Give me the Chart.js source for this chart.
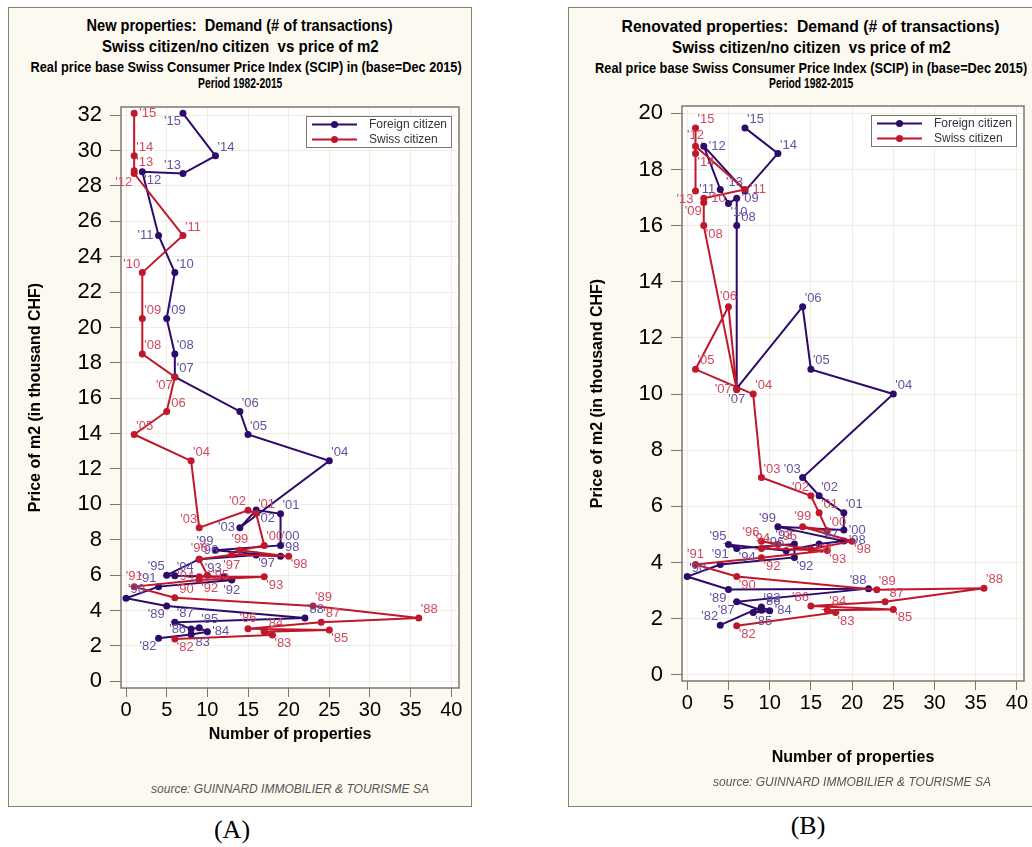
<!DOCTYPE html>
<html>
<head>
<meta charset="utf-8">
<script src="https://cdn.jsdelivr.net/npm/chart.js@4.4.0/dist/chart.umd.min.js"></script>
<style>
html, body { margin: 0; padding: 0; background: #fff; }
body { width: 1032px; height: 847px; position: relative; overflow: hidden; font-family: Arial, "Liberation Sans", sans-serif; }
.panel { position: absolute; top: 7px; height: 798px; background: #fcf9f1; border: 1px solid #858074; }
#panelA { left: 8px; width: 462px; }
#panelB { left: 568px; width: 484px; }
.ttl { position: absolute; left: 0; width: 100%; text-align: center; white-space: pre; font-family: Arial, "Liberation Sans", sans-serif; font-weight: bold; color: #000; }
.ttl span { display: inline-block; transform-origin: 50% 50%; }
.t1 { font-size: 17px; line-height: 20px; }
.t2 { font-size: 14px; line-height: 16px; }
canvas { position: absolute; }
.src { position: absolute; transform: translateX(-50%); white-space: nowrap; font-style: italic; font-size: 12px; color: #555; }
.tag { position: absolute; transform: translateX(-50%); font-family: "Liberation Serif", "Times New Roman", serif; font-size: 26px; color: #000; }
</style>
</head>
<body>
<div class="panel" id="panelA">
  <div class="ttl t1" style="top:8px"><span data-w="306">New properties:  Demand (# of transactions)</span></div>
  <div class="ttl t1" style="top:29px"><span data-w="277">Swiss citizen/no citizen  vs price of m2</span></div>
  <div class="ttl t2" style="top:51px"><span data-w="431">Real price base Swiss Consumer Price Index (SCIP) in (base=Dec 2015)</span></div>
  <div class="ttl t2" style="top:67px"><span data-w="84">Period 1982-2015</span></div>
</div>
<div class="panel" id="panelB">
  <div class="ttl t1" style="top:9px"><span data-w="378">Renovated properties:  Demand (# of transactions)</span></div>
  <div class="ttl t1" style="top:30px"><span data-w="279">Swiss citizen/no citizen  vs price of m2</span></div>
  <div class="ttl t2" style="top:52px"><span data-w="432">Real price base Swiss Consumer Price Index (SCIP) in (base=Dec 2015)</span></div>
  <div class="ttl t2" style="top:67px"><span data-w="84">Period 1982-2015</span></div>
</div>
<canvas id="chartA" width="480" height="780" style="left:0;top:0"></canvas>
<canvas id="chartB" width="500" height="780" style="left:568px;top:0"></canvas>
<div class="src" style="left:290px;top:782px">source: GUINNARD IMMOBILIER &amp; TOURISME SA</div>
<div class="src" style="left:852px;top:775px">source: GUINNARD IMMOBILIER &amp; TOURISME SA</div>
<div class="tag" style="left:232px;top:815px">(A)</div>
<div class="tag" style="left:808px;top:811px">(B)</div>

<script>
// années 1982 -> 2015
const years = ['82','83','84','85','86','87','88','89','90','91','92','93','94','95','96','97','98','99',
               '00','01','02','03','04','05','06','07','08','09','10','11','12','13','14','15'];

// (A) Nouveaux biens
const newForeignCount = [4, 8, 10, 9, 8, 6, 22, 5, 0, 4, 13, 12, 6, 5, 9, 16, 19, 11,
                         19, 19, 16, 14, 25, 15, 14, 6, 6, 5, 6, 4, 2, 7, 11, 7];
const newForeignPrice = [2.43, 2.65, 2.8, 3.02, 2.95, 3.33, 3.58, 4.25, 4.69, 5.35, 5.72, 5.91, 5.97, 6.0, 6.9, 7.14, 7.06, 7.4,
                         7.68, 9.47, 9.68, 8.68, 12.46, 13.95, 15.25, 17.2, 18.5, 20.5, 23.1, 25.2, 28.8, 28.7, 29.7, 32.1];
const newSwissCount   = [6, 18, 17, 25, 15, 24, 36, 23, 6, 1, 9, 17, 9, 10, 9, 13, 20, 14,
                         17, 16, 15, 9, 8, 1, 5, 6, 2, 2, 2, 7, 1, 1, 1, 1];
const newSwissPrice   = [2.39, 2.62, 2.8, 2.9, 2.97, 3.33, 3.58, 4.25, 4.72, 5.35, 5.72, 5.91, 5.91, 6.0, 6.9, 7.15, 7.06, 7.4,
                         7.68, 9.49, 9.66, 8.68, 12.46, 13.95, 15.25, 17.2, 18.5, 20.5, 23.1, 25.2, 28.7, 28.85, 29.7, 32.1];

// (B) Biens rénovés
const renForeignCount = [4, 9, 10, 8, 9, 6, 22, 5, 0, 4, 13, 13, 6, 5, 12, 16, 19, 11,
                         19, 19, 16, 14, 25, 15, 14, 6, 6, 6, 5, 4, 2, 7, 11, 7];
const renForeignPrice = [1.77, 2.42, 2.28, 2.22, 2.3, 2.6, 3.07, 3.04, 3.5, 3.93, 4.18, 4.66, 4.5, 4.64, 4.42, 4.66, 4.77, 5.27,
                         5.16, 5.77, 6.38, 7.03, 10.0, 10.88, 13.11, 10.2, 16.0, 16.97, 16.79, 17.29, 18.83, 17.23, 18.57, 19.48];
const renSwissCount   = [6, 18, 17, 25, 15, 24, 36, 23, 6, 1, 9, 17, 9, 11, 9, 15, 20, 14,
                         17, 16, 15, 9, 8, 1, 5, 6, 2, 2, 2, 7, 1, 1, 1, 1];
const renSwissPrice   = [1.75, 2.22, 2.3, 2.33, 2.45, 2.6, 3.08, 3.03, 3.5, 3.93, 4.17, 4.43, 4.5, 4.64, 4.76, 4.47, 4.76, 5.27,
                         5.13, 5.77, 6.38, 7.03, 10.0, 10.88, 13.11, 10.15, 16.0, 16.82, 16.97, 17.29, 18.83, 17.23, 18.57, 19.48];

// graduations
const countTicks = [0, 5, 10, 15, 20, 25, 30, 35, 40];
const newPriceTicks = [0, 2, 4, 6, 8, 10, 12, 14, 16, 18, 20, 22, 24, 26, 28, 30, 32];
const renPriceTicks = [0, 2, 4, 6, 8, 10, 12, 14, 16, 18, 20];

// position des étiquettes d'année autour des points
const spotsNewForeign = 'sw se e ne w ne ne sw ne nw s nw ne nw ne se ne nw ne ne se w ne ne ne ne ne ne ne w se nw ne sw'.split(' ');
const spotsNewSwiss   = 'se se ne se n ne ne ne ne n se se w e n s se n ne ne nw nw ne ne ne sw ne ne nw ne sw ne ne e'.split(' ');
const spotsRenForeign = 'nw ne e se ne sw nw sw ne n se nw se nw nw ne e nw e ne ne nw ne ne ne s ne e se w e nw ne ne'.split(' ');
const spotsRenSwiss   = 'se se ne se nw ne ne ne se n se se n ne nw e se n ne ne nw ne ne ne n w se sw e e n sw se ne'.split(' ');

const FOREIGN = '#2d0a6b';
const SWISS = '#c0172b';
const AXIS = '#7d776b';

Chart.defaults.font.family = 'Arial, "Liberation Sans", sans-serif';

/**
 * Resserre les lignes de titre à la largeur de l'original (police étroite)
 */
function fitTitles() {
    document.querySelectorAll('.ttl span').forEach(span => {
        const target = parseFloat(span.dataset.w);
        const natural = span.offsetWidth;
        if (natural > 0) {
            span.style.transform = 'scaleX(' + (target / natural).toFixed(3) + ')';
        }
    });
}

/**
 * Fond blanc et cadre de la zone de tracé
 */
const plotFrame = {
    id: 'plotFrame',
    beforeDraw(chart) {
        const a = chart.chartArea;
        chart.ctx.save();
        chart.ctx.fillStyle = '#ffffff';
        chart.ctx.fillRect(a.left, a.top, a.right - a.left, a.bottom - a.top);
        chart.ctx.restore();
    },
    beforeDatasetsDraw(chart) {
        const a = chart.chartArea;
        const ctx = chart.ctx;
        ctx.save();
        ctx.strokeStyle = AXIS;
        ctx.lineWidth = 1.5;
        ctx.strokeRect(a.left, a.top, a.right - a.left, a.bottom - a.top);
        ctx.restore();
    }
};

/**
 * Étiquettes 'AA à côté de chaque point
 */
const yearLabels = {
    id: 'yearLabels',
    afterDatasetsDraw(chart) {
        const ctx = chart.ctx;
        const place = {
            ne: ['left', 'bottom', 2, -2], nw: ['right', 'bottom', -2, -2],
            se: ['left', 'top', 2, 2],     sw: ['right', 'top', -2, 2],
            e:  ['left', 'middle', 5, 0],  w:  ['right', 'middle', -5, 0],
            n:  ['center', 'bottom', 0, -4], s: ['center', 'top', 0, 4]
        };
        ctx.save();
        ctx.font = '13px Arial, "Liberation Sans", sans-serif';
        chart.data.datasets.forEach((ds, di) => {
            const meta = chart.getDatasetMeta(di);
            ctx.fillStyle = ds.labelColor;
            meta.data.forEach((pt, i) => {
                const p = place[ds.yearSpots[i]] || place.ne;
                ctx.textAlign = p[0];
                ctx.textBaseline = p[1];
                ctx.fillText("'" + years[i], pt.x + p[2], pt.y + p[3]);
            });
        });
        ctx.restore();
    }
};

/**
 * Légende encadrée dans le coin supérieur droit
 */
const legendBox = {
    id: 'legendBox',
    afterDraw(chart) {
        const ctx = chart.ctx;
        const a = chart.chartArea;
        const w = 145, h = 31;
        const x = a.right - 8 - w, y = a.top + 9;
        ctx.save();
        ctx.fillStyle = '#ffffff';
        ctx.fillRect(x, y, w, h);
        ctx.strokeStyle = AXIS;
        ctx.lineWidth = 1;
        ctx.strokeRect(x + 0.5, y + 0.5, w, h);
        chart.data.datasets.forEach((ds, i) => {
            const cy = y + 8.5 + i * 15;
            ctx.strokeStyle = ds.borderColor;
            ctx.lineWidth = 2;
            ctx.beginPath();
            ctx.moveTo(x + 6, cy);
            ctx.lineTo(x + 51, cy);
            ctx.stroke();
            ctx.fillStyle = ds.borderColor;
            ctx.beginPath();
            ctx.arc(x + 28.5, cy, 3.5, 0, Math.PI * 2);
            ctx.fill();
            ctx.fillStyle = '#333';
            ctx.font = '12px Arial, "Liberation Sans", sans-serif';
            ctx.textAlign = 'left';
            ctx.textBaseline = 'middle';
            ctx.fillText(ds.label, x + 63, cy + 0.5);
        });
        ctx.restore();
    }
};

function points(xs, ys) {
    return xs.map((x, i) => ({ x: x, y: ys[i] }));
}

function buildChart(id, cfg) {
    return new Chart(document.getElementById(id), {
        type: 'scatter',
        data: {
            datasets: [{
                label: 'Foreign citizen',
                data: points(cfg.foreignX, cfg.foreignY),
                borderColor: FOREIGN,
                backgroundColor: FOREIGN,
                labelColor: '#6650a0',
                yearSpots: cfg.foreignSpots,
                order: 1
            }, {
                label: 'Swiss citizen',
                data: points(cfg.swissX, cfg.swissY),
                borderColor: SWISS,
                backgroundColor: SWISS,
                labelColor: '#d3485e',
                yearSpots: cfg.swissSpots,
                order: 0
            }]
        },
        options: {
            responsive: false,
            animation: false,
            showLine: true,
            elements: {
                line: { borderWidth: 2, tension: 0 },
                point: { radius: 3.5, borderWidth: 0, hoverRadius: 3.5 }
            },
            layout: { padding: cfg.padding },
            plugins: {
                legend: { display: false },
                tooltip: { enabled: false }
            },
            scales: {
                x: {
                    type: 'linear',
                    min: cfg.xMin,
                    max: cfg.xMax,
                    afterBuildTicks: s => { s.ticks = countTicks.map(v => ({ value: v })); },
                    afterFit: s => { s.height = cfg.xAxisHeight; },
                    ticks: { color: '#000', font: { size: 20 }, padding: 1, maxRotation: 0 },
                    grid: { color: '#efeee0', tickColor: AXIS, tickLength: 9 },
                    border: { display: false },
                    title: {
                        display: true,
                        text: 'Number of properties',
                        color: '#000',
                        font: { size: 16, weight: 'bold' },
                        padding: 0
                    }
                },
                y: {
                    type: 'linear',
                    min: cfg.yMin,
                    max: cfg.yMax,
                    afterBuildTicks: s => { s.ticks = cfg.yTicks.map(v => ({ value: v })); },
                    afterFit: s => { s.width = cfg.yAxisWidth; },
                    ticks: { color: '#000', font: { size: 22 }, padding: 8 },
                    grid: { color: '#efeee0', tickColor: AXIS, tickLength: 11 },
                    border: { display: false },
                    title: {
                        display: true,
                        text: 'Price of m2 (in thousand CHF)',
                        color: '#000',
                        font: { size: 16, weight: 'bold' },
                        padding: 0
                    }
                }
            }
        },
        plugins: [plotFrame, yearLabels, legendBox]
    });
}

document.addEventListener('DOMContentLoaded', function() {
    fitTitles();

    buildChart('chartA', {
        foreignX: newForeignCount, foreignY: newForeignPrice, foreignSpots: spotsNewForeign,
        swissX: newSwissCount, swissY: newSwissPrice, swissSpots: spotsNewSwiss,
        xMin: -0.62, xMax: 40.95, yMin: -0.38, yMax: 32.46, yTicks: newPriceTicks,
        padding: { left: 26, top: 107, right: 21, bottom: 36 },
        xAxisHeight: 56, yAxisWidth: 95
    });
    buildChart('chartB', {
        foreignX: renForeignCount, foreignY: renForeignPrice, foreignSpots: spotsRenForeign,
        swissX: renSwissCount, swissY: renSwissPrice, swissSpots: spotsRenSwiss,
        xMin: -0.64, xMax: 40.86, yMin: -0.22, yMax: 20.26, yTicks: renPriceTicks,
        padding: { left: 20, top: 106, right: 44, bottom: 13 },
        xAxisHeight: 86, yAxisWidth: 94
    });
});
</script>
</body>
</html>
